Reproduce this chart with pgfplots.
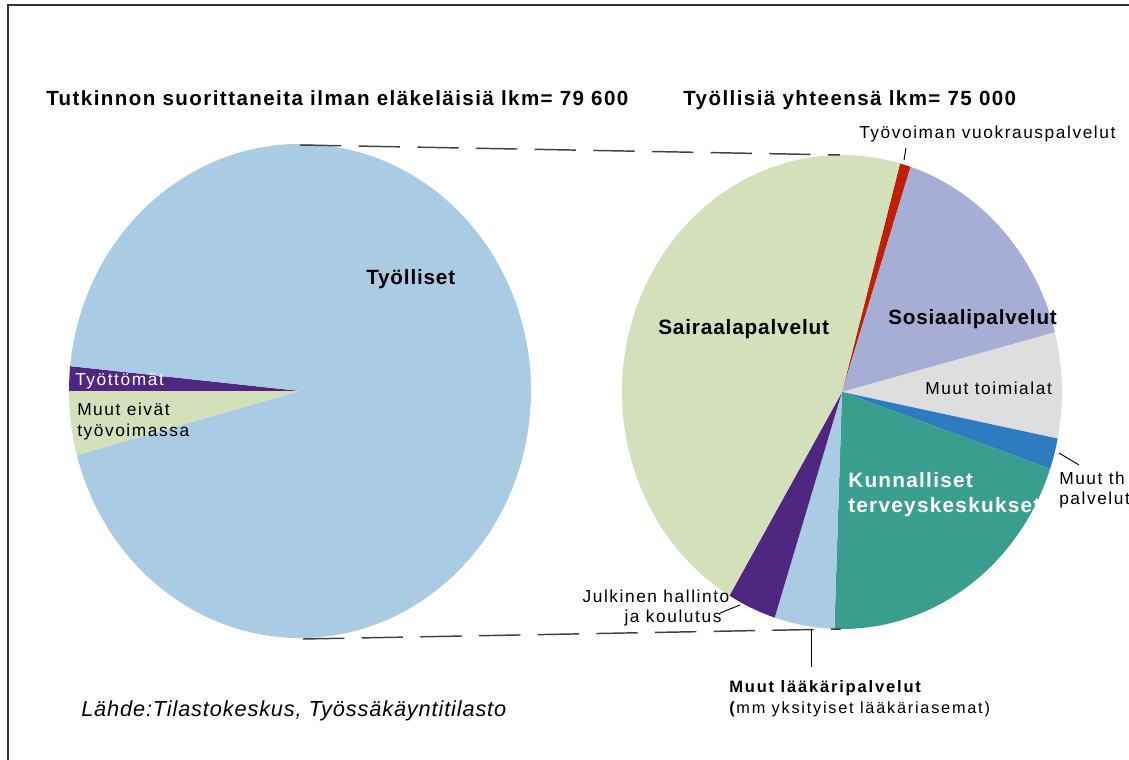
\documentclass[border=0pt]{standalone}
\usepackage{pgfplots}
\pgfplotsset{compat=1.18}
\usepackage{pgfplotstable}
\usepackage{fontspec}
\setmainfont{Liberation Sans}
\newfontfamily\fA[LetterSpace=7]{Liberation Sans}
\newfontfamily\fB[LetterSpace=4]{Liberation Sans}
\newfontfamily\fC[LetterSpace=9]{Liberation Sans}
\newfontfamily\fD[LetterSpace=11]{Liberation Sans}
\newfontfamily\fW[LetterSpace=6]{Liberation Sans}

\definecolor{cblue}{RGB}{169,204,228}
\definecolor{cpurple}{RGB}{80,39,128}
\definecolor{cgreen}{RGB}{211,224,186}
\definecolor{cred}{RGB}{192,32,10}
\definecolor{clav}{RGB}{166,174,213}
\definecolor{cgrey}{RGB}{222,222,222}
\definecolor{cmblue}{RGB}{46,123,192}
\definecolor{cteal}{RGB}{58,158,142}

% shares in percent, listed clockwise
\pgfplotstableread{
label share col
Muut 4.2 cgreen
Tyottomat 1.6 cpurple
Tyolliset 94.2 cblue
}\leftpie

\pgfplotstableread{
label share col
Vuokraus 0.8 cred
Sosiaali 15.9 clav
Muuttoimialat 7.2 cgrey
Muutth 2.1 cmblue
Kunnalliset 20.3 cteal
Laakari 4.4 cblue
Julkinen 3.6 cpurple
Sairaala 45.7 cgreen
}\rightpie

% #1 table, #2 cx, #3 cy (axis units), #4 x radius, #5 y radius, #6 start angle
\newcommand\piechart[6]{%
  \pgfplotstablegetrowsof{#1}%
  \pgfmathtruncatemacro\pielast{\pgfplotsretval-1}%
  \xdef\piecur{#6}%
  \foreach \i in {0,...,\pielast}{%
    \pgfplotstablegetelem{\i}{share}\of{#1}\let\pieshare\pgfplotsretval
    \pgfplotstablegetelem{\i}{col}\of{#1}\let\piecol\pgfplotsretval
    \pgfmathsetmacro\pienext{\piecur-3.6*\pieshare}%
    \edef\piedo{\noexpand\fill[\piecol] (axis cs:#2,#3) -- ++(\piecur:#4 and #5) arc[start angle=\piecur, end angle=\pienext, x radius=#4, y radius=#5] -- cycle;}%
    \piedo
    \xdef\piecur{\pienext}%
  }%
}

\begin{document}
\begin{tikzpicture}
\path[use as bounding box] (0,0) rectangle (846.75pt,570pt);
\begin{axis}[at={(0,0)}, anchor=south west, width=846.75pt, height=570pt,
  scale only axis, xmin=0, xmax=1129, ymin=0, ymax=760, hide axis, clip=false]

\piechart{\leftpie}{300}{369}{173.25pt}{185.25pt}{195.1}
\piechart{\rightpie}{842}{368}{165pt}{177.75pt}{74.7}

% connector lines
\draw[dash pattern=on 31pt off 13pt, line width=1.1pt, black!75] (axis cs:300,615) -- (axis cs:840,605);
\draw[dash pattern=on 31pt off 13pt, line width=1.1pt, black!75] (axis cs:303,121) -- (axis cs:841,131);

% frame
\draw[line width=0.8pt, black!80] (axis cs:8,-10) -- (axis cs:8,755) -- (axis cs:1140,755);

% titles
\node[anchor=base west, inner sep=0pt, font=\fA\bfseries\fontsize{15.4}{18}\selectfont] at (axis cs:46,654) {Tutkinnon suorittaneita ilman eläkeläisiä lkm= 79 600};
\node[anchor=base west, inner sep=0pt, font=\fA\bfseries\fontsize{15.4}{18}\selectfont] at (axis cs:683,654) {Työllisiä yhteensä lkm= 75 000};

% left pie labels
\node[anchor=base west, inner sep=0pt, font=\fB\bfseries\fontsize{15.5}{18}\selectfont] at (axis cs:366,475) {Työlliset};
\node[anchor=base west, inner sep=0pt, text=white, font=\fC\fontsize{13}{15}\selectfont] at (axis cs:75,374) {Työttömät};
\node[anchor=base west, inner sep=0pt, font=\fC\fontsize{13}{15}\selectfont] at (axis cs:77,344) {Muut eivät};
\node[anchor=base west, inner sep=0pt, font=\fC\fontsize{13}{15}\selectfont] at (axis cs:77,323) {työvoimassa};

% right pie labels
\node[anchor=base west, inner sep=0pt, font=\fB\bfseries\fontsize{15.6}{18}\selectfont] at (axis cs:658,425) {Sairaalapalvelut};
\node[anchor=base west, inner sep=0pt, font=\fB\bfseries\fontsize{15.5}{18}\selectfont] at (axis cs:888,435) {Sosiaalipalvelut};
\node[anchor=base west, inner sep=0pt, font=\fC\fontsize{13}{15}\selectfont] at (axis cs:925,365) {Muut toimialat};
\node[anchor=base west, inner sep=0pt, text=white, font=\fW\bfseries\fontsize{15.6}{18}\selectfont] at (axis cs:848,272) {Kunnalliset};
\node[anchor=base west, inner sep=0pt, text=white, font=\fW\bfseries\fontsize{15.6}{18}\selectfont] at (axis cs:848,247) {terveyskeskukset};
\node[anchor=base west, inner sep=0pt, font=\fC\fontsize{13}{15}\selectfont] at (axis cs:859,621) {Työvoiman vuokrauspalvelut};
\node[anchor=base west, inner sep=0pt, font=\fC\fontsize{13}{15}\selectfont] at (axis cs:1059,275) {Muut th};
\node[anchor=base west, inner sep=0pt, font=\fC\fontsize{13}{15}\selectfont] at (axis cs:1059,255) {palvelut};
\node[anchor=base, inner sep=0pt, font=\fC\fontsize{13}{15}\selectfont] at (axis cs:656,157) {Julkinen hallinto};
\node[anchor=base, inner sep=0pt, font=\fC\fontsize{13}{15}\selectfont] at (axis cs:673,137) {ja koulutus};
\node[anchor=base west, inner sep=0pt, font=\fD\bfseries\fontsize{12.4}{15}\selectfont] at (axis cs:729,67) {Muut lääkäripalvelut};
\node[anchor=base west, inner sep=0pt, font=\fD\fontsize{12.2}{15}\selectfont] at (axis cs:729,46) {\textbf{(}mm yksityiset lääkäriasemat)};

% source
\node[anchor=base west, inner sep=0pt, font=\fB\itshape\fontsize{16.3}{18}\selectfont] at (axis cs:81,43) {Lähde:Tilastokeskus, Työssäkäyntitilasto};

% leader lines
\draw[line width=0.7pt] (axis cs:906,612) -- (axis cs:904,600);
\draw[line width=0.7pt] (axis cs:1059,307) -- (axis cs:1079,295);
\draw[line width=0.7pt] (axis cs:720,147) -- (axis cs:740,155);
\draw[line width=0.7pt] (axis cs:811,131) -- (axis cs:811,93);
\end{axis}
\end{tikzpicture}
\end{document}
